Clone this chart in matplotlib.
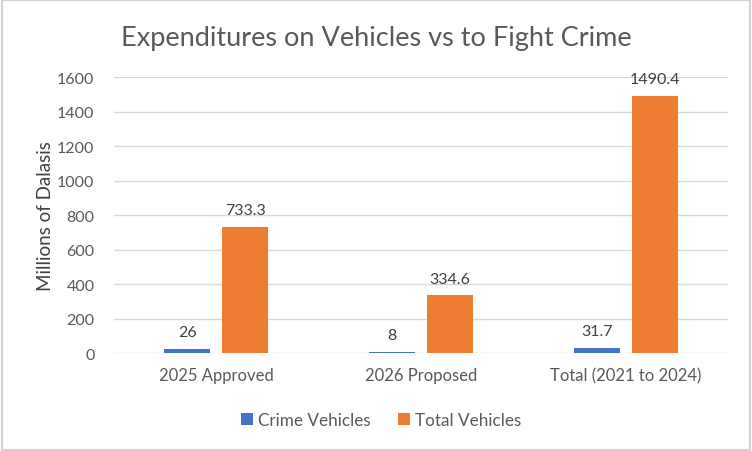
import numpy as np
import matplotlib.pyplot as plt

categories = ["2025 Approved", "2026 Proposed", "Total (2021 to 2024)"]
crime_vehicles = [26, 8, 31.7]
total_vehicles = [733.3, 334.6, 1490.4]
crime_labels = ["26", "8", "31.7"]
total_labels = ["733.3", "334.6", "1490.4"]

blue = "#4472C4"
orange = "#ED7D31"
text_col = "#595959"

plt.rcParams['font.family'] = ['Lato', 'DejaVu Sans']

fig = plt.figure(figsize=(7.52, 4.52), dpi=100)
ax = fig.add_axes([0.1516, 0.2168, 0.8164, 0.6106])

x = np.arange(len(categories))
w = 0.225
off = 0.142
b1 = ax.bar(x - off, crime_vehicles, w, color=blue, label="Crime Vehicles", zorder=3)
b2 = ax.bar(x + off, total_vehicles, w, color=orange, label="Total Vehicles", zorder=3)

for bars, labs in ((b1, crime_labels), (b2, total_labels)):
    for r, lab in zip(bars, labs):
        ax.annotate(lab, (r.get_x() + r.get_width() / 2, r.get_height()),
                    xytext=(0, 7), textcoords="offset points", ha="center",
                    va="bottom", fontsize=11.5, color="#404040")

ax.set_xlim(-0.5, 2.5)
ax.set_ylim(0, 1600)
ax.set_yticks(range(0, 1601, 200))
ax.set_xticks(x)
ax.set_xticklabels(categories, fontsize=12)
ax.tick_params(length=0, labelsize=11.5, labelcolor=text_col)
ax.tick_params(axis="x", labelsize=12, pad=10)
ax.tick_params(axis="y", pad=14)
ax.grid(axis="y", color="#D9D9D9", linewidth=1, zorder=0)
for s in ax.spines.values():
    s.set_visible(False)
ax.set_ylabel("Millions of Dalasis", fontsize=13.5, color="#404040", labelpad=2)

fig.text(0.5, 0.915, "Expenditures on Vehicles vs to Fight Crime", ha="center",
         va="center", fontsize=19.5, color=text_col)

fig.legend(handles=[b1, b2], loc="center", bbox_to_anchor=(0.507, 0.069), ncol=2,
           frameon=False, fontsize=12.3, labelcolor=text_col, handlelength=0.7,
           handleheight=0.7, handletextpad=0.3, columnspacing=1.6)

fig.patches.append(plt.Rectangle((0.002, 0.003), 0.995, 0.994, transform=fig.transFigure,
                                 fill=False, edgecolor="#D0D0D0", linewidth=1.5))

fig.savefig("out.png", dpi=100)
